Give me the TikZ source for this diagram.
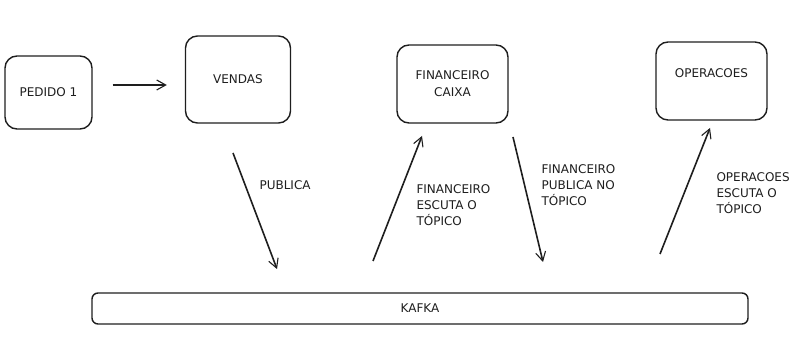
\documentclass[tikz,border=0pt]{standalone}
\usepackage{fontspec}
\setmainfont{DejaVu Sans}
\usetikzlibrary{arrows.meta}
\definecolor{ink}{HTML}{1E1E1E}
\tikzset{
  svc/.style={draw=ink,line width=1.4pt,rounded corners=12pt,align=center,
    font=\fontsize{12}{17}\selectfont,text=ink},
  msg/.style={->,>={Straight Barb[length=9pt,width=10pt,line width=1.1pt]},
    draw=ink,line width=1.6pt},
  note/.style={align=left,anchor=west,font=\fontsize{12}{16}\selectfont,text=ink}
}
\begin{document}
\begin{tikzpicture}[x=1pt,y=-1pt]
 \useasboundingbox (0,0) rectangle (809,344);
 % services
 \node[svc,minimum width=87pt,minimum height=73pt] (pedido) at (48.5,92.5) {PEDIDO 1};
 \node[svc,minimum width=105pt,minimum height=87pt] (vendas) at (238,79.5) {VENDAS};
 \node[svc,minimum width=111pt,minimum height=78pt] (financeiro) at (452.5,84) {FINANCEIRO\\CAIXA};
 \node[svc,minimum width=111pt,minimum height=78pt,
   label={[svc,draw=none,yshift=8pt]center:OPERACOES}] (operacoes) at (711.5,81) {};
 \node[svc,rounded corners=6pt,minimum width=656pt,minimum height=31pt] (kafka) at (420,308.5) {KAFKA};
 % free ends of the topic arrows
 \coordinate (pubA) at (233,153);  \coordinate (pubB) at (277,269);
 \coordinate (finA) at (373,261);  \coordinate (finB) at (422,136);
 \coordinate (finC) at (513,137);  \coordinate (finD) at (543,262);
 \coordinate (opA)  at (660,254);  \coordinate (opB)  at (710,128);
 \draw[msg,shorten <=20pt,shorten >=18pt]
   ([yshift=7.5pt]pedido.east) -- ([yshift=7.5pt]pedido.east -| vendas.west);
 \draw[msg] (pubA) -- (pubB);
 \draw[msg] (finA) -- (finB);
 \draw[msg] (finC) -- (finD);
 \draw[msg] (opA) -- (opB);
 % labels
 \node[note] (lpub) at (256,185) {PUBLICA};
 \node[note] (lfin) at (413,205) {FINANCEIRO\\ESCUTA O\\TÓPICO};
 \node[note] (lfinpub) at (538,185) {FINANCEIRO\\PUBLICA NO\\TÓPICO};
 \node[note] (lop) at (713,193) {OPERACOES\\ESCUTA O\\TÓPICO};
\end{tikzpicture}
\end{document}
